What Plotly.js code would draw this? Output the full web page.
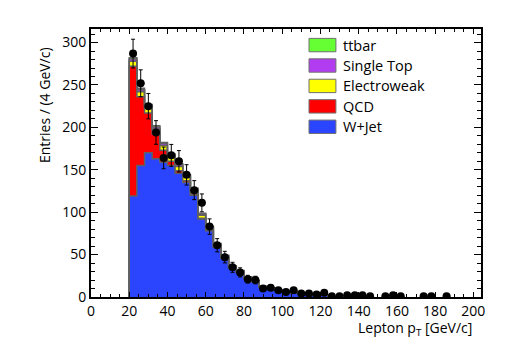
<!DOCTYPE html>
<html>
<head>
<meta charset="utf-8">
<script src="https://cdn.plot.ly/plotly-3.0.1.min.js"></script>
<style>html,body{margin:0;padding:0;background:#fff}</style>
</head>
<body>
<div id="plot" style="width:506px;height:346px"></div>
<script>
// lepton pT bins (low edges, 4 GeV wide)
const binLow = [20, 24, 28, 32, 36, 40, 44, 48, 52, 56, 60, 64, 68, 72, 76, 80, 84, 88, 92, 96, 100, 104, 108, 112, 116, 120];
const binWidth = 4;

// MC stack, bottom to top
const wjet  = [119, 155, 170, 163, 159, 155, 146, 135, 120, 92, 78, 58.5, 45.5, 34, 29, 22, 18, 11.5, 10, 7.8, 6.5, 5, 4, 3.2, 2.7, 2.3];
const qcd   = [153, 81, 47, 29, 14, 5, 3, 2, 1.5, 1, 0.6, 0.4, 0.3, 0.2, 0.1, 0.1, 0, 0, 0, 0, 0, 0, 0, 0, 0, 0];
const ewk   = [6, 6, 6, 6, 5.5, 5, 5, 4.5, 4, 3.5, 3, 2.5, 2, 1.6, 1.3, 1, 0.8, 0.6, 0.5, 0.4, 0.3, 0.3, 0.2, 0.2, 0.1, 0.1];
const stop  = [2.5, 2.5, 2.5, 2.5, 2.4, 2.2, 2, 1.8, 1.6, 1.3, 1.1, 0.9, 0.7, 0.6, 0.5, 0.4, 0.3, 0.3, 0.2, 0.2, 0.1, 0.1, 0.1, 0.1, 0.1, 0.1];
const ttbar = [1.5, 1.5, 1.5, 1.5, 1.4, 1.3, 1.2, 1.1, 1, 0.9, 0.8, 0.7, 0.6, 0.5, 0.4, 0.3, 0.3, 0.2, 0.2, 0.1, 0.1, 0.1, 0.1, 0.1, 0, 0];

// data (bin centres with non-empty counts)
const dataPt     = [22, 26, 30, 34, 38, 42, 46, 50, 54, 58, 62, 66, 70, 74, 78, 82, 86, 90, 94, 98, 102, 106, 110, 114, 118, 122, 126, 130, 134, 138, 142, 146, 154, 158, 162, 174, 178, 186];
const dataCounts = [287, 252, 225, 194, 164, 167, 160, 144, 126, 111, 83, 61, 47, 35, 29, 21, 20, 10, 11, 8, 6, 8, 4, 4, 3, 5, 1, 1, 2, 2, 2, 1, 1, 2, 1, 1, 1, 1];

const names  = ["W+Jet", "QCD", "Electroweak", "Single Top", "ttbar"];
const colors = ["#2b45ff", "#ff0000", "#ffff00", "#b23cf0", "#66ff33"];
const comps  = [wjet, qcd, ewk, stop, ttbar];

const font = "Open Sans, DejaVu Sans, sans-serif";
const outline = "#606060";

function stepXY(vals) {
  const last = binLow[binLow.length - 1] + binWidth;
  const x = [binLow[0]], y = [0];
  binLow.forEach((b, i) => { x.push(b); y.push(vals[i]); });
  x.push(last); y.push(vals[vals.length - 1]);
  x.push(last); y.push(0);
  return { x, y };
}

const traces = [];
let cum = binLow.map(() => 0);
comps.forEach((c, k) => {
  cum = cum.map((v, i) => v + c[i]);
  const s = stepXY(cum);
  traces.push({
    type: "scatter", mode: "lines", x: s.x, y: s.y,
    line: { shape: "hv", color: outline, width: 1.5 },
    fill: k === 0 ? "tozeroy" : "tonexty",
    fillcolor: colors[k], name: names[k], showlegend: false, hoverinfo: "skip"
  });
});

traces.push({
  type: "scatter", mode: "markers", x: dataPt, y: dataCounts,
  marker: { color: "black", size: 8 },
  error_y: { type: "data", array: dataCounts.map(v => Math.sqrt(v)), color: "black", thickness: 1, width: 2 },
  error_x: { type: "constant", value: binWidth / 2, color: "black", thickness: 1, width: 0 },
  name: "Data", showlegend: false
});

// hand-made legend, ttbar on top
const shapes = [], annotations = [];
for (let j = 0; j < names.length; j++) {
  const k = names.length - 1 - j;
  const yc = 0.94 - j * 0.0762;
  shapes.push({ type: "rect", xref: "paper", yref: "paper", x0: 0.559, x1: 0.628, y0: yc - 0.025, y1: yc + 0.025,
    fillcolor: colors[k], line: { color: "#707070", width: 1 } });
  annotations.push({ xref: "paper", yref: "paper", x: 0.641, y: yc, xanchor: "left", yanchor: "middle",
    text: names[k], showarrow: false, font: { family: font, size: 14.5, color: "black" } });
}
annotations.push({ xref: "paper", yref: "paper", x: 0.982, y: -0.116, xanchor: "right", yanchor: "middle",
  text: "Lepton p<sub>T</sub> [GeV/c]", showarrow: false, font: { family: font, size: 14, color: "black" } });
annotations.push({ xref: "paper", yref: "paper", x: -0.1205, y: 0.94, xanchor: "center", yanchor: "top", textangle: -90,
  text: "Entries / (4 GeV/c)", showarrow: false, font: { family: font, size: 14, color: "black" } });

const layout = {
  width: 506, height: 346,
  margin: { l: 91, r: 25, t: 29, b: 49 },
  paper_bgcolor: "white", plot_bgcolor: "white",
  font: { family: font, size: 14, color: "black" },
  showlegend: false,
  xaxis: {
    range: [0, 204], tick0: 0, dtick: 20, ticks: "inside", ticklen: 5, tickwidth: 1, tickcolor: "black",
    minor: { dtick: 5, ticks: "inside", ticklen: 3, tickcolor: "black" },
    showline: true, linecolor: "black", linewidth: 2, mirror: "ticks", showgrid: false, zeroline: false
  },
  yaxis: {
    range: [0, 316], tick0: 0, dtick: 50, ticks: "inside", ticklen: 7, tickwidth: 1, tickcolor: "black",
    minor: { dtick: 10, ticks: "inside", ticklen: 4, tickcolor: "black" },
    showline: true, linecolor: "black", linewidth: 2, mirror: "ticks", showgrid: false, zeroline: false
  },
  shapes, annotations
};

Plotly.newPlot("plot", traces, layout, { displayModeBar: false, staticPlot: true });
</script>
</body>
</html>
